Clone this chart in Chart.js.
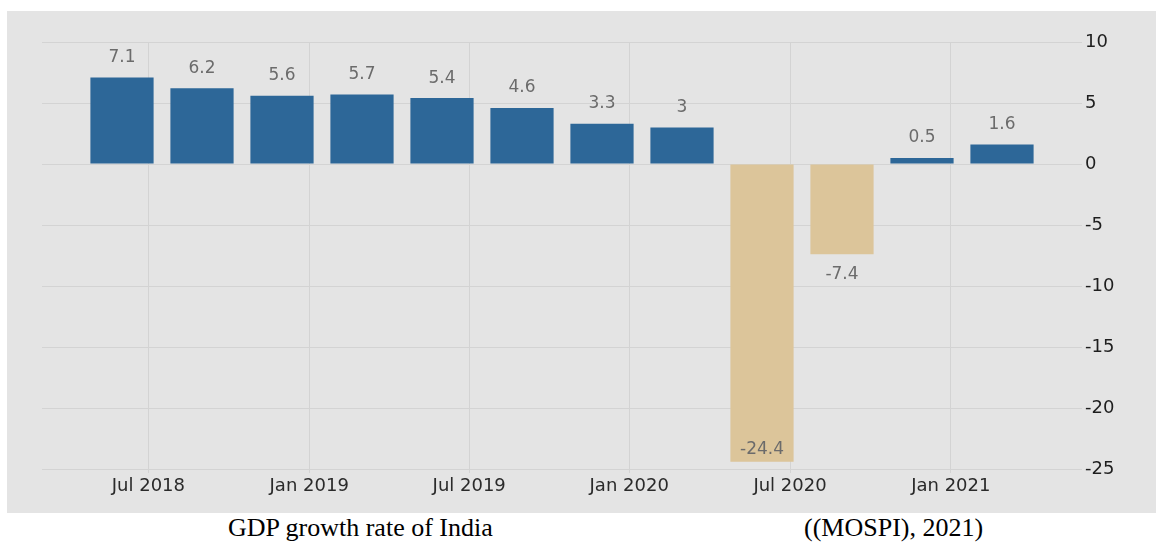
<!DOCTYPE html>
<html>
<head>
<meta charset="utf-8">
<script src="https://cdn.jsdelivr.net/npm/chart.js@4/dist/chart.umd.min.js"></script>
<style>
  html, body { margin: 0; padding: 0; background: #ffffff; width: 1156px; height: 542px; overflow: hidden; }
  #panel { position: absolute; left: 7px; top: 11px; width: 1149px; height: 502px; background: #e4e4e4; }
  #panel canvas { display: block; }
  .cap { position: absolute; top: 515px; font-family: "Liberation Serif", "Times New Roman", serif; font-size: 26px; line-height: 26px; color: #000; white-space: nowrap; }
</style>
</head>
<body>
<div id="panel"><canvas id="c" width="1149" height="502"></canvas></div>
<div class="cap" style="left:228px;">GDP growth rate of India</div>
<div class="cap" style="left:804px;">((MOSPI), 2021)</div>
<script>
// Quarters (quarter ending month)
const categories = ["Jun 2018","Sep 2018","Dec 2018","Mar 2019","Jun 2019","Sep 2019","Dec 2019","Mar 2020","Jun 2020","Sep 2020","Dec 2020","Mar 2021"];
// GDP growth rate, %
const growthValues = [7.1, 6.2, 5.6, 5.7, 5.4, 4.6, 3.3, 3, -24.4, -7.4, 0.5, 1.6];
// Date tick labels on the x axis and their positions measured in quarter-index units
const xTickLabels = ["Jul 2018","Jan 2019","Jul 2019","Jan 2020","Jul 2020","Jan 2021"];
const xTickPositions = [0.33, 2.34, 4.34, 6.34, 8.35, 10.36];
// Value-axis ticks
const yTickValues = [10, 5, 0, -5, -10, -15, -20, -25];

const POS_COLOR = "#2d6798";
const NEG_COLOR = "#dcc59a";

const points = growthValues.map((v, i) => ({ x: i, y: v }));
const colors = growthValues.map(v => v >= 0 ? POS_COLOR : NEG_COLOR);

const valueLabels = {
  id: "valueLabels",
  afterDatasetsDraw(chart) {
    const ctx = chart.ctx;
    const meta = chart.getDatasetMeta(0);
    const area = chart.chartArea;
    ctx.save();
    ctx.font = "17px 'DejaVu Sans', sans-serif";
    ctx.fillStyle = "#6b6b6b";
    ctx.textAlign = "center";
    ctx.textBaseline = "middle";
    meta.data.forEach((bar, i) => {
      const v = growthValues[i];
      let y;
      if (v >= 0) {
        y = bar.y - 20;
      } else {
        y = bar.y + 20;
        if (y + 10 > area.bottom) y = bar.y - 12;
      }
      ctx.fillText(String(v), bar.x, y);
    });
    ctx.restore();
  }
};

new Chart(document.getElementById("c"), {
  type: "bar",
  data: {
    labels: categories,
    datasets: [{
      label: "GDP growth rate",
      data: points,
      backgroundColor: colors,
      borderWidth: 0,
      categoryPercentage: 1,
      barPercentage: 0.79
    }]
  },
  options: {
    responsive: false,
    animation: false,
    layout: { padding: { left: 35, top: 31, right: 0, bottom: 0 } },
    plugins: { legend: { display: false }, tooltip: { enabled: false } },
    scales: {
      x: {
        type: "linear",
        min: -1,
        max: 11.9,
        offset: false,
        grid: { offset: false, color: "#d3d3d3", lineWidth: 1, tickLength: 4, drawTicks: true },
        border: { display: false },
        afterBuildTicks(scale) { scale.ticks = xTickPositions.map(v => ({ value: v })); },
        afterFit(scale) { scale.height = 44; },
        ticks: {
          autoSkip: false,
          maxRotation: 0,
          padding: 3,
          color: "#2a2a2a",
          font: { family: "'DejaVu Sans', sans-serif", size: 18 },
          callback: (v, i) => xTickLabels[i]
        }
      },
      y: {
        position: "right",
        min: -25,
        max: 10,
        grid: { color: "#d3d3d3", lineWidth: 1, tickLength: 8 },
        border: { display: false },
        afterBuildTicks(scale) { scale.ticks = yTickValues.map(v => ({ value: v })); },
        afterFit(scale) { scale.width = 82; },
        ticks: {
          padding: 3,
          color: "#1e1e1e",
          font: { family: "'DejaVu Sans', sans-serif", size: 18 },
          callback: v => String(v)
        }
      }
    }
  },
  plugins: [valueLabels]
});
</script>
</body>
</html>
